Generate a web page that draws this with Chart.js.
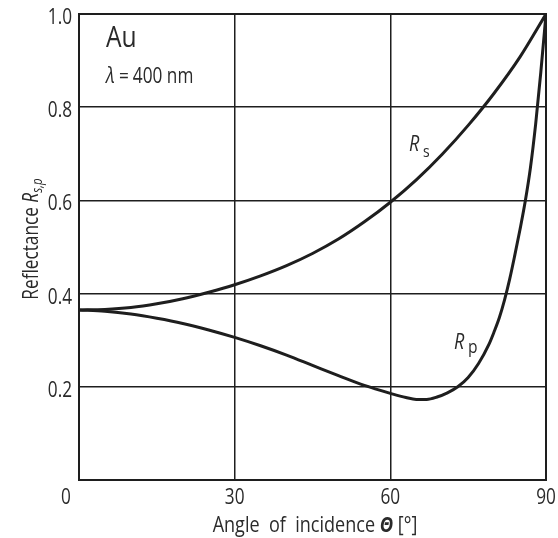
<!DOCTYPE html>
<html>
<head>
<meta charset="utf-8">
<script src="https://cdn.jsdelivr.net/npm/chart.js@4"></script>
<style>
  html, body { margin: 0; padding: 0; background: #fff; }
</style>
</head>
<body>
<canvas id="chart" width="558" height="538"></canvas>
<script>
// Au at 400 nm, reflectance vs angle of incidence
const angleS = [0, 5, 10, 15, 20, 25, 30, 35, 40, 45, 50, 55, 60, 65, 70, 75, 80, 85, 90];
const rS = [0.365, 0.366, 0.370, 0.378, 0.389, 0.403, 0.419, 0.438, 0.460, 0.486, 0.517, 0.554, 0.596, 0.644, 0.699, 0.761, 0.830, 0.908, 1.0];

const angleP = [0, 5, 10, 15, 20, 25, 30, 35, 40, 45, 50, 55, 60, 63, 65, 67, 69, 71, 73, 75, 77, 79, 80, 81, 82, 83, 84, 85, 86, 87, 88, 89, 90];
const rP = [0.365, 0.362, 0.356, 0.347, 0.336, 0.322, 0.306, 0.288, 0.268, 0.246, 0.224, 0.203, 0.186, 0.177, 0.173, 0.173, 0.178, 0.187, 0.200, 0.220, 0.250, 0.291, 0.318, 0.348, 0.386, 0.431, 0.483, 0.538, 0.598, 0.670, 0.763, 0.875, 1.0];

const xTicks = [0, 30, 60, 90];
const yTicks = [0.2, 0.4, 0.6, 0.8, 1.0];

const FONT = '"Open Sans", "Noto Sans", sans-serif';
const INK = '#1e1e1e';
const TEXT = '#2a2a2a';
const SX = 0.82; // condense text horizontally

// draw text runs, condensed; align 'left' | 'center' | 'right'
function drawRuns(ctx, runs, x, y, align) {
    ctx.save();
    ctx.translate(x, y);
    ctx.scale(SX, 1);
    let total = 0;
    runs.forEach(r => { ctx.font = r.font; total += ctx.measureText(r.t).width + (r.dx || 0); });
    let cx = align === 'center' ? -total / 2 : align === 'right' ? -total : 0;
    runs.forEach(r => {
        ctx.font = r.font;
        cx += (r.dx || 0);
        ctx.fillText(r.t, cx, r.dy || 0);
        cx += ctx.measureText(r.t).width;
    });
    ctx.restore();
}

const frameAndText = {
    id: 'frameAndText',
    afterDraw(chart) {
        const ctx = chart.ctx;
        const a = chart.chartArea;
        const xs = chart.scales.x;
        const ys = chart.scales.y;
        ctx.save();
        ctx.strokeStyle = INK;
        ctx.lineWidth = 2;
        ctx.strokeRect(a.left, a.top, a.right - a.left, a.bottom - a.top);

        ctx.fillStyle = TEXT;
        ctx.textBaseline = 'alphabetic';
        ctx.textAlign = 'left';

        // tick labels
        const tickFont = '21px ' + FONT;
        xTicks.forEach(v => {
            const px = xs.getPixelForValue(v) + (v === 0 ? -13 : 0);
            drawRuns(ctx, [{ t: String(v), font: tickFont }], px, 504, 'center');
        });
        yTicks.forEach(v => {
            drawRuns(ctx, [{ t: v.toFixed(1), font: tickFont }], 72, ys.getPixelForValue(v) + 10, 'right');
        });

        // sample labels
        drawRuns(ctx, [{ t: 'Au', font: '30px ' + FONT }], 106, 47, 'left');
        drawRuns(ctx, [
            { t: 'λ', font: 'italic 22px ' + FONT },
            { t: '=', font: '21px ' + FONT, dx: 5 },
            { t: '400 nm', font: '21px ' + FONT, dx: 5 }
        ], 106, 83, 'left');

        // curve labels
        drawRuns(ctx, [{ t: 'R', font: 'italic 22px ' + FONT }], 409, 151, 'left');
        drawRuns(ctx, [{ t: 's', font: '17px ' + FONT }], 423, 157, 'left');
        drawRuns(ctx, [{ t: 'R', font: 'italic 22px ' + FONT }], 454, 349, 'left');
        drawRuns(ctx, [{ t: 'p', font: '19px ' + FONT }], 468, 353, 'left');

        // x axis title
        drawRuns(ctx, [
            { t: 'Angle  of  incidence ', font: '22px ' + FONT },
            { t: 'Θ', font: 'italic bold 22px ' + FONT },
            { t: ' [°]', font: '22px ' + FONT }
        ], 315, 532, 'center');

        // y axis title
        ctx.translate(38, 239);
        ctx.rotate(-Math.PI / 2);
        drawRuns(ctx, [
            { t: 'Reflectance ', font: '21px ' + FONT },
            { t: 'R', font: 'italic 21px ' + FONT },
            { t: 's,p', font: 'italic 14px ' + FONT, dy: 4 }
        ], 0, 0, 'center');
        ctx.restore();
    }
};

const ctx = document.getElementById('chart').getContext('2d');
new Chart(ctx, {
    type: 'line',
    data: {
        datasets: [{
            label: 'Rs',
            data: angleS.map((a, i) => ({ x: a, y: rS[i] })),
            borderColor: INK,
            borderWidth: 3,
            pointRadius: 0,
            cubicInterpolationMode: 'monotone',
            fill: false
        }, {
            label: 'Rp',
            data: angleP.map((a, i) => ({ x: a, y: rP[i] })),
            borderColor: INK,
            borderWidth: 3,
            pointRadius: 0,
            cubicInterpolationMode: 'monotone',
            fill: false
        }]
    },
    options: {
        responsive: false,
        animation: false,
        layout: { padding: { top: 14, right: 12, left: 0, bottom: 0 } },
        plugins: {
            legend: { display: false },
            tooltip: { enabled: false }
        },
        scales: {
            x: {
                type: 'linear',
                min: 0,
                max: 90,
                afterBuildTicks: s => { s.ticks = xTicks.map(v => ({ value: v })); },
                afterFit: s => { s.height = 58; },
                ticks: { display: false },
                grid: {
                    drawTicks: false,
                    color: c => (c.tick && (c.tick.value === 0 || c.tick.value === 90)) ? 'rgba(0,0,0,0)' : INK,
                    lineWidth: 1.5
                },
                border: { color: INK, width: 2 }
            },
            y: {
                min: 0,
                max: 1.0,
                afterBuildTicks: s => { s.ticks = yTicks.map(v => ({ value: v })); },
                afterFit: s => { s.width = 79; },
                ticks: { display: false },
                grid: {
                    drawTicks: false,
                    color: INK,
                    lineWidth: 1.5
                },
                border: { color: INK, width: 2 }
            }
        }
    },
    plugins: [frameAndText]
});
</script>
</body>
</html>
